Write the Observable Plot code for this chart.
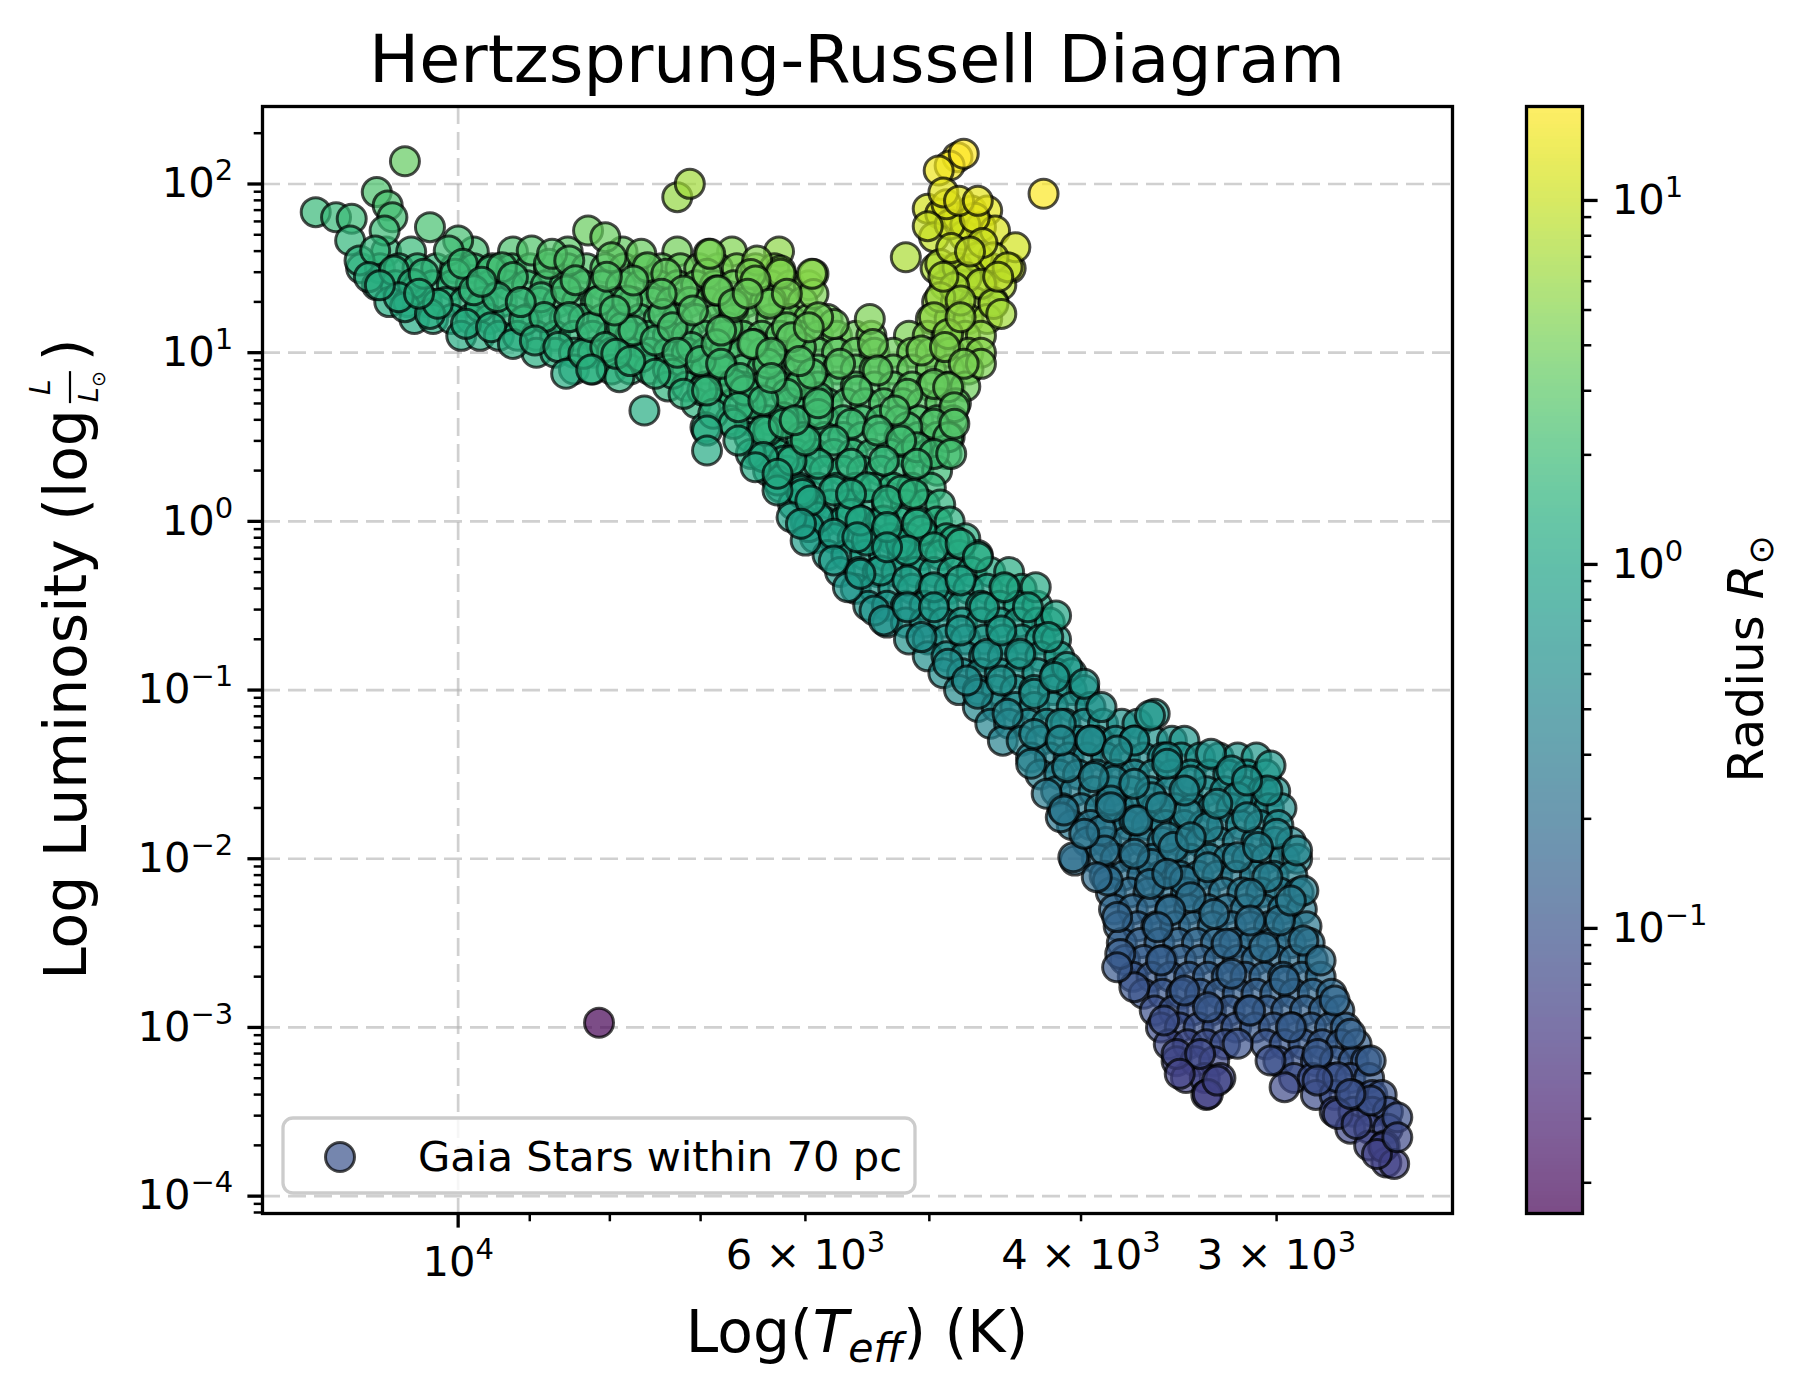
<!DOCTYPE html>
<html><head><meta charset="utf-8">
<script src="https://cdn.jsdelivr.net/npm/d3@7"></script>
<script src="https://cdn.jsdelivr.net/npm/@observablehq/plot@0.6"></script>
<style>
body{margin:0;background:#fff;}
#wrap{position:relative;width:1803px;height:1394px;font-family:"DejaVu Sans",sans-serif;}
#wrap svg{position:absolute;left:0;top:0;}
</style></head><body><div id="wrap"></div>
<script>
// Dense body of the diagram, read row by row: log10 L/Lsun and the log10 Teff (K) of stars along that row
const upperFillRows = [
  {logL: 1.6, logT: [4.046,4.030,3.990,3.965,3.930,3.895,3.860,3.825,3.795]},
  {logL: 1.5, logT: [4.062,4.050,4.038,4.026,4.014,4.002,3.990,3.978,3.966,3.954,3.942,3.930,3.918,3.906,3.894,3.882,3.870,3.858,3.846,3.834,3.822,3.810,3.798,3.695,3.683,3.671,3.659,3.647]},
  {logL: 1.4, logT: [4.052,4.040,4.028,4.016,4.004,3.992,3.980,3.968,3.956,3.944,3.932,3.920,3.908,3.896,3.884,3.872,3.860,3.848,3.836,3.824,3.812,3.800,3.788,3.776,3.689,3.677,3.665,3.653]},
  {logL: 1.3, logT: [4.044,4.032,4.020,4.008,3.996,3.984,3.972,3.960,3.948,3.936,3.924,3.912,3.900,3.888,3.876,3.864,3.852,3.840,3.828,3.816,3.804,3.792,3.780,3.694,3.682,3.670,3.658]},
  {logL: 1.2, logT: [4.028,4.016,4.004,3.992,3.980,3.968,3.956,3.944,3.932,3.920,3.908,3.896,3.884,3.872,3.860,3.848,3.836,3.824,3.812,3.800,3.788,3.776,3.764,3.698,3.686,3.674,3.662]},
  {logL: 1.1, logT: [3.998,3.986,3.974,3.962,3.950,3.938,3.926,3.914,3.902,3.890,3.878,3.866,3.854,3.842,3.830,3.818,3.806,3.794,3.782,3.770,3.758,3.746,3.736,3.712,3.700,3.688,3.676,3.666]},
  {logL: 1.0, logT: [3.950,3.938,3.926,3.914,3.902,3.890,3.878,3.866,3.854,3.842,3.830,3.818,3.806,3.794,3.782,3.770,3.758,3.746,3.734,3.722,3.710,3.698,3.686,3.674,3.666]},
  {logL: 0.9, logT: [3.926,3.914,3.902,3.890,3.878,3.866,3.854,3.842,3.830,3.818,3.806,3.794,3.782,3.770,3.758,3.746,3.734,3.722,3.710,3.698,3.686,3.674]},
  {logL: 0.8, logT: [3.866,3.854,3.842,3.830,3.818,3.806,3.794,3.782,3.770,3.758,3.746,3.734,3.722,3.710,3.698,3.686,3.676]},
  {logL: 0.7, logT: [3.848,3.836,3.824,3.812,3.800,3.788,3.776,3.764,3.752,3.740,3.728,3.716,3.704,3.692,3.682]},
  {logL: 0.6, logT: [3.826,3.814,3.802,3.790,3.778,3.766,3.754,3.742,3.730,3.718,3.706,3.694,3.684]},
  {logL: 0.5, logT: [3.814,3.802,3.790,3.778,3.766,3.754,3.742,3.730,3.718,3.706,3.694,3.686]},
  {logL: 0.4, logT: [3.808,3.796,3.784,3.772,3.760,3.748,3.736,3.724,3.712,3.700,3.688]},
  {logL: 0.3, logT: [3.802,3.790,3.778,3.766,3.754,3.742,3.730,3.718,3.706,3.694]},
  {logL: 0.2, logT: [3.794,3.782,3.770,3.758,3.746,3.734,3.722,3.710,3.698]},
  {logL: 0.1, logT: [3.786,3.774,3.762,3.750,3.738,3.726,3.714,3.702,3.692]},
  {logL: 0.0, logT: [3.778,3.766,3.754,3.742,3.730,3.718,3.706,3.694,3.686]}
];
const lowerFillRows = [
  {logL: -0.1, logT: [3.772,3.760,3.748,3.736,3.724,3.712,3.700,3.688,3.676]},
  {logL: -0.2, logT: [3.764,3.752,3.740,3.728,3.716,3.704,3.692,3.680,3.668]},
  {logL: -0.3, logT: [3.756,3.744,3.732,3.720,3.708,3.696,3.684,3.672,3.660,3.648]},
  {logL: -0.4, logT: [3.746,3.734,3.722,3.710,3.698,3.686,3.674,3.662,3.650,3.640]},
  {logL: -0.5, logT: [3.738,3.726,3.714,3.702,3.690,3.678,3.666,3.654,3.642,3.630]},
  {logL: -0.6, logT: [3.726,3.714,3.702,3.690,3.678,3.666,3.654,3.642,3.630,3.622]},
  {logL: -0.7, logT: [3.712,3.700,3.688,3.676,3.664,3.652,3.640,3.628,3.618]},
  {logL: -0.8, logT: [3.700,3.688,3.676,3.664,3.652,3.640,3.628,3.616]},
  {logL: -0.9, logT: [3.690,3.678,3.666,3.654,3.642,3.630,3.618,3.608]},
  {logL: -1.0, logT: [3.680,3.668,3.656,3.644,3.632,3.620,3.608,3.600]},
  {logL: -1.1, logT: [3.668,3.656,3.644,3.632,3.620,3.608,3.596]},
  {logL: -1.2, logT: [3.660,3.648,3.636,3.624,3.612,3.600,3.588,3.576,3.566]},
  {logL: -1.3, logT: [3.652,3.640,3.628,3.616,3.604,3.592,3.580,3.568,3.556,3.544,3.536]},
  {logL: -1.4, logT: [3.634,3.622,3.610,3.598,3.586,3.574,3.562,3.550,3.538,3.526,3.514,3.502,3.490]},
  {logL: -1.5, logT: [3.628,3.616,3.604,3.592,3.580,3.568,3.556,3.544,3.532,3.520,3.508,3.496,3.484]},
  {logL: -1.6, logT: [3.618,3.606,3.594,3.582,3.570,3.558,3.546,3.534,3.522,3.510,3.498,3.486,3.478]},
  {logL: -1.7, logT: [3.614,3.602,3.590,3.578,3.566,3.554,3.542,3.530,3.518,3.506,3.494,3.482,3.474]},
  {logL: -1.8, logT: [3.608,3.596,3.584,3.572,3.560,3.548,3.536,3.524,3.512,3.500,3.488,3.476]},
  {logL: -1.9, logT: [3.598,3.586,3.574,3.562,3.550,3.538,3.526,3.514,3.502,3.490,3.478,3.468]},
  {logL: -2.0, logT: [3.592,3.580,3.568,3.556,3.544,3.532,3.520,3.508,3.496,3.484,3.472,3.464]},
  {logL: -2.1, logT: [3.587,3.575,3.563,3.551,3.539,3.527,3.515,3.503,3.491,3.479,3.467]},
  {logL: -2.2, logT: [3.583,3.571,3.559,3.547,3.535,3.523,3.511,3.499,3.487,3.475,3.463]},
  {logL: -2.3, logT: [3.581,3.569,3.557,3.545,3.533,3.521,3.509,3.497,3.485,3.473,3.461]},
  {logL: -2.4, logT: [3.578,3.566,3.554,3.542,3.530,3.518,3.506,3.494,3.482,3.470,3.458]},
  {logL: -2.5, logT: [3.576,3.564,3.552,3.540,3.528,3.516,3.504,3.492,3.480,3.468,3.456]},
  {logL: -2.6, logT: [3.574,3.562,3.550,3.538,3.526,3.514,3.502,3.490,3.478,3.466,3.454]},
  {logL: -2.7, logT: [3.569,3.557,3.545,3.533,3.521,3.509,3.497,3.485,3.473,3.461,3.449]},
  {logL: -2.8, logT: [3.562,3.550,3.538,3.526,3.514,3.502,3.490,3.478,3.466,3.454,3.442]},
  {logL: -2.9, logT: [3.555,3.543,3.531,3.519,3.507,3.495,3.483,3.471,3.459,3.447,3.437]},
  {logL: -3.0, logT: [3.551,3.539,3.527,3.515,3.503,3.491,3.479,3.467,3.455,3.443,3.433]},
  {logL: -3.1, logT: [3.546,3.534,3.522,3.510,3.484,3.472,3.460,3.448,3.436,3.426]},
  {logL: -3.2, logT: [3.541,3.529,3.517,3.476,3.464,3.452,3.440,3.428,3.420]},
  {logL: -3.3, logT: [3.535,3.523,3.513,3.466,3.454,3.442,3.430,3.418]},
  {logL: -3.4, logT: [3.522,3.452,3.440,3.428,3.416,3.410]},
  {logL: -3.5, logT: [3.440,3.428,3.416,3.406]},
  {logL: -3.6, logT: [3.430,3.418,3.406]},
  {logL: -3.7, logT: [3.418,3.408]},
  {logL: -3.8, logT: [3.407]}
];

// Individually placed stars: [log10 Teff (K), log10 L/Lsun]
const upperMainSequence = [[4.034,2.135],[4.091,1.833],[4.078,1.803],[4.068,1.794],[4.052,1.952],[4.045,1.873],[4.042,1.803],[4.047,1.724],[4.069,1.665],[4.063,1.547],[4.053,1.606],[4.057,1.448],[4.018,1.744],[4.000,1.665],[4.006,1.606],[4.041,1.487],[4.029,1.408],[4.034,1.270],[4.018,1.230],[4.013,1.290],[4.038,1.329],[4.022,1.468],[4.002,1.468],[3.997,1.527],[3.986,1.270],[3.995,1.171],[3.979,1.487],[3.972,1.507],[3.965,1.448],[3.979,1.151],[3.965,1.052],[3.958,1.191],[3.953,1.606],[3.942,1.527],[3.940,1.586],[3.947,1.329],[3.945,1.211],[3.951,1.072],[3.929,1.547],[3.917,1.724],[3.906,1.685],[3.902,1.566],[3.931,1.369],[3.929,1.211],[3.936,1.033],[3.931,0.875],[3.920,0.993],[3.915,1.151],[3.910,1.309],[3.895,1.151],[3.892,1.309],[3.883,1.586],[3.879,1.507],[3.888,1.428],[3.867,1.468],[3.869,1.230],[3.883,0.973],[3.897,0.855],[3.881,0.657],[3.863,0.875],[3.856,1.369],[3.840,1.586],[3.841,1.468],[3.835,1.369],[3.851,1.033],[3.844,0.776],[3.842,0.558],[3.831,0.894],[3.828,1.151],[3.888,1.131],[3.906,1.033],[3.899,0.993],[3.874,1.072],[3.863,1.151],[3.824,1.270],[3.874,0.875],[3.856,0.756],[3.837,0.638],[3.990,1.370],[3.975,1.330],[3.960,1.300],[4.050,1.400],[4.025,1.350],[3.985,1.420],[3.925,1.430],[3.905,1.450],[3.900,1.250],[3.915,0.900],[3.890,0.950],[3.870,1.350],[3.860,1.000],[3.845,0.950],[3.850,1.250],[3.835,1.050]];

const giantBranch = [[3.860,1.922],[3.852,2.001],[3.681,2.159],[3.686,2.110],[3.693,2.080],[3.677,2.179],[3.626,1.942],[3.700,1.853],[3.692,1.823],[3.681,1.803],[3.672,1.843],[3.662,1.843],[3.677,1.694],[3.666,1.744],[3.657,1.724],[3.644,1.625],[3.696,1.685],[3.714,1.566],[3.692,1.526],[3.681,1.507],[3.668,1.566],[3.658,1.566],[3.649,1.507],[3.675,1.447],[3.666,1.408],[3.683,1.388],[3.692,1.329],[3.658,1.289],[3.653,1.230],[3.696,1.210],[3.679,1.309],[3.687,1.111],[3.679,1.210],[3.704,1.013],[3.689,1.033],[3.666,0.934],[3.677,0.934],[3.696,0.815],[3.687,0.795],[3.713,0.756],[3.683,0.677],[3.696,0.578],[3.687,0.499],[3.683,0.578],[3.713,0.558],[3.707,0.440],[3.696,0.400],[3.685,0.400],[3.676,1.760],[3.686,1.760],[3.670,1.800],[3.688,1.880],[3.690,1.950],[3.680,1.900],[3.668,1.900],[3.700,1.750],[3.665,1.650],[3.685,1.620],[3.673,1.600],[3.655,1.450],[3.690,1.450]];

const subgiants = [[3.737,1.200],[3.735,1.052],[3.773,1.467],[3.794,1.487],[3.809,1.546],[3.773,1.348],[3.760,1.170],[3.770,1.210],[3.790,1.151],[3.800,1.309],[3.813,1.467],[3.834,1.368],[3.839,1.586],[3.824,1.289],[3.811,1.052],[3.832,1.131],[3.781,1.032],[3.756,0.934],[3.732,0.894],[3.745,0.776],[3.721,0.657],[3.770,0.736],[3.781,0.815],[3.802,0.934],[3.824,0.815],[3.841,0.776],[3.832,0.934],[3.813,0.697],[3.792,0.617],[3.770,0.637],[3.749,0.578],[3.732,0.538],[3.717,0.479],[3.760,0.479],[3.781,0.499],[3.802,0.538],[3.824,0.578],[3.841,0.538],[3.813,0.400],[3.792,0.360],[3.770,0.341],[3.749,0.341],[3.728,0.360],[3.707,0.341],[3.781,0.183],[3.760,0.183],[3.739,0.202],[3.717,0.183],[3.796,0.242],[3.749,0.044],[3.728,0.005],[3.770,0.024],[3.704,-0.055],[3.683,-0.114],[3.739,-0.114],[3.717,-0.134],[3.841,0.420],[3.794,1.468],[3.810,1.428],[3.801,1.290],[3.812,1.052],[3.817,0.776],[3.805,0.539],[3.787,1.092],[3.776,1.151],[3.774,1.468],[3.790,0.756],[3.787,0.361],[3.780,0.163],[3.776,-0.034],[3.796,0.183],[3.805,0.381],[3.821,0.677],[3.821,0.479],[3.810,0.321],[3.796,0.282],[3.787,0.025],[3.778,-0.114],[3.805,0.717],[3.792,0.578],[3.778,0.479],[3.774,0.875],[3.820,0.850],[3.815,1.350],[3.800,1.000],[3.800,0.850],[3.790,1.350],[3.782,0.950],[3.785,0.600],[3.770,0.700]];

const lowerMainSequence = [[3.775,0.124],[3.749,0.163],[3.726,0.124],[3.709,0.163],[3.781,-0.014],[3.760,-0.074],[3.743,0.005],[3.726,-0.034],[3.707,-0.014],[3.760,-0.232],[3.745,-0.094],[3.730,-0.291],[3.713,-0.173],[3.696,-0.153],[3.679,-0.133],[3.668,-0.212],[3.751,-0.390],[3.734,-0.528],[3.728,-0.587],[3.713,-0.350],[3.696,-0.390],[3.679,-0.350],[3.664,-0.509],[3.651,-0.390],[3.631,-0.390],[3.618,-0.558],[3.636,-0.509],[3.713,-0.509],[3.696,-0.509],[3.704,-0.686],[3.687,-0.844],[3.679,-0.647],[3.662,-0.785],[3.653,-0.647],[3.641,-0.785],[3.623,-0.686],[3.611,-0.864],[3.668,-1.022],[3.649,-1.141],[3.632,-1.022],[3.619,-0.923],[3.600,-0.963],[3.589,-1.101],[3.615,-1.200],[3.632,-1.260],[3.555,-1.141],[3.568,-1.299],[3.596,-1.299],[3.634,-1.437],[3.624,-1.615],[3.611,-1.457],[3.581,-1.536],[3.547,-1.398],[3.532,-1.536],[3.557,-1.635],[3.583,-1.655],[3.615,-1.754],[3.606,-2.011],[3.589,-1.833],[3.568,-1.773],[3.547,-1.872],[3.534,-1.734],[3.585,-2.129],[3.557,-2.031],[3.536,-2.129],[3.726,-0.153],[3.743,-0.311],[3.653,-0.943],[3.675,-0.943]];

const mDwarfs = [[3.558,-1.151],[3.519,-1.378],[3.481,-1.447],[3.506,-1.477],[3.483,-1.595],[3.607,-1.991],[3.615,-1.299],[3.596,-1.299],[3.579,-1.358],[3.547,-1.437],[3.568,-1.556],[3.536,-1.595],[3.502,-1.635],[3.594,-1.516],[3.613,-1.714],[3.566,-1.773],[3.521,-1.813],[3.496,-1.754],[3.477,-1.852],[3.464,-1.951],[3.543,-1.931],[3.587,-1.951],[3.568,-1.971],[3.502,-1.991],[3.521,-2.050],[3.460,-2.188],[3.483,-2.109],[3.592,-2.109],[3.558,-2.149],[3.532,-2.228],[3.494,-2.208],[3.475,-2.366],[3.579,-2.346],[3.545,-2.307],[3.517,-2.327],[3.577,-2.564],[3.551,-2.603],[3.509,-2.504],[3.485,-2.524],[3.460,-2.485],[3.449,-2.603],[3.568,-2.761],[3.536,-2.781],[3.506,-2.682],[3.472,-2.722],[3.440,-2.840],[3.549,-2.959],[3.521,-2.880],[3.494,-2.900],[3.468,-2.999],[3.430,-3.038],[3.541,-3.157],[3.526,-3.157],[3.521,-3.394],[3.515,-3.315],[3.539,-3.275],[3.502,-3.097],[3.481,-3.196],[3.472,-3.354],[3.451,-3.157],[3.438,-3.295],[3.417,-3.196],[3.438,-3.513],[3.426,-3.572],[3.417,-3.433],[3.400,-3.532],[3.409,-3.710],[3.402,-3.809],[3.413,-3.750],[3.400,-3.651],[3.430,-3.394],[3.451,-3.315],[3.579,-2.643],[3.553,-2.406],[3.494,-2.366],[3.468,-2.248],[3.547,-2.089],[3.600,-1.852],[3.583,-1.694],[3.551,-1.694],[3.515,-1.674],[3.489,-1.931],[3.532,-1.872],[3.496,-1.536]];

const whiteDwarfs = [[3.910,-2.972]];

// Axis ticks
const yMajorTicks = [1e-4, 1e-3, 1e-2, 1e-1, 1, 10, 100];
const xMajorTicks = [10000];
const xLabeledMinorTicks = [6000, 4000, 3000];
const xMinorTicks = [9000, 8000, 7000, 5000];
const cbarMajorTicks = [0.1, 1, 10];

const T_SUN = 5772;
const rowPairs = rows => rows.flatMap(r => r.logT.map(t => [t, r.logL]));
const stars = [...rowPairs(upperFillRows), ...rowPairs(lowerFillRows),
  ...upperMainSequence, ...giantBranch, ...subgiants, ...lowerMainSequence, ...mDwarfs, ...whiteDwarfs]
  .map(([lt, ll]) => {
    const teff = 10 ** lt, lum = 10 ** ll;
    return {teff, lum, radius: Math.sqrt(lum) * (T_SUN / teff) ** 2};
  });
const rDomain = d3.extent(stars, d => d.radius);

const W = 1803, H = 1394;
const xDomain = [13335, 2316];
const yDomain = [7.89e-5, 288];
const FONT = "'DejaVu Sans', sans-serif";
// "10^n" is turned into a raised exponent after rendering
const pow10 = v => "10^" + String(Math.round(Math.log10(v))).replace("-", "\u2212");
const xLabelFmt = d => `${d / 1000} × 10^3`;
const minorOf = (majors, lo, hi) => majors.concat([majors[0] / 10]).flatMap(m => d3.range(2, 10).map(k => k * m)).filter(v => v > lo && v < hi);
const yMinorTicks = minorOf(yMajorTicks, yDomain[0], yDomain[1]);
const cbarMinorTicks = minorOf(cbarMajorTicks, rDomain[0], rDomain[1]);
const gridStyle = {stroke: "#b0b0b0", strokeOpacity: 0.6, strokeWidth: 2.7, strokeDasharray: "18 8"};
const baseStyle = {fontFamily: FONT, fontSize: "41.7px", background: "transparent", color: "black", overflow: "visible"};

const mainPlot = Plot.plot({
  width: W, height: H, marginLeft: 262, marginRight: 351, marginTop: 106, marginBottom: 181,
  style: baseStyle,
  x: {type: "log", domain: xDomain},
  y: {type: "log", domain: yDomain},
  color: {type: "log", scheme: "viridis", domain: rDomain},
  marks: [
    Plot.gridY(yMajorTicks, gridStyle),
    Plot.gridX(xMajorTicks, gridStyle),
    Plot.dot(stars, {x: "teff", y: "lum", fill: "radius", r: 14.5, fillOpacity: 0.7, stroke: "black", strokeOpacity: 0.7, strokeWidth: 3}),
    Plot.axisY({ticks: yMajorTicks, tickSize: 14.6, tickPadding: 14.6, tickFormat: pow10, strokeWidth: 3.3, fontSize: 41.7, label: null}),
    Plot.axisY({ticks: yMinorTicks, tickSize: 8.3, tickPadding: 0, tickFormat: () => "", strokeWidth: 2.5, label: null}),
    Plot.axisX({ticks: xMajorTicks, tickSize: 14.6, tickPadding: 18, tickFormat: pow10, strokeWidth: 3.3, fontSize: 41.7, label: null}),
    Plot.axisX({ticks: xLabeledMinorTicks, tickSize: 8.3, tickPadding: 18, tickFormat: xLabelFmt, strokeWidth: 2.5, fontSize: 41.7, label: null}),
    Plot.axisX({ticks: xMinorTicks, tickSize: 8.3, tickPadding: 0, tickFormat: () => "", strokeWidth: 2.5, label: null}),
    Plot.frame({stroke: "black", strokeWidth: 3.3})
  ]
});

const lr0 = Math.log10(rDomain[0]), lr1 = Math.log10(rDomain[1]), N = 300;
const cbarStops = d3.range(N).map(i => {
  const lo = 10 ** (lr0 + (lr1 - lr0) * i / N), hi = 10 ** (lr0 + (lr1 - lr0) * (i + 1) / N);
  return {lo, hi, mid: Math.sqrt(lo * hi)};
});
const cbarPlot = Plot.plot({
  width: W, height: H, marginLeft: 1526, marginRight: 221, marginTop: 106, marginBottom: 181,
  style: baseStyle,
  x: {domain: [0, 1], axis: null},
  y: {type: "log", domain: rDomain},
  color: {type: "log", scheme: "viridis", domain: rDomain},
  marks: [
    Plot.rect(cbarStops, {x1: 0, x2: 1, y1: "lo", y2: "hi", fill: "mid", fillOpacity: 0.7, shapeRendering: "crispEdges"}),
    Plot.axisY({ticks: cbarMajorTicks, anchor: "right", tickSize: 14.6, tickPadding: 14.6, tickFormat: pow10, strokeWidth: 3.3, fontSize: 41.7, label: null}),
    Plot.axisY({ticks: cbarMinorTicks, anchor: "right", tickSize: 8.3, tickPadding: 0, tickFormat: () => "", strokeWidth: 2.5, label: null}),
    Plot.frame({stroke: "black", strokeWidth: 3.3})
  ]
});

// raise exponents of tick labels like matplotlib mathtext
function raiseExponents(node) {
  d3.select(node).selectAll("text").each(function () {
    const s = this.textContent, i = s.indexOf("^");
    if (i < 0) return;
    const t = d3.select(this);
    t.text(null);
    t.append("tspan").text(s.slice(0, i));
    t.append("tspan").attr("font-size", 29).attr("dy", -17).text(s.slice(i + 1));
  });
}
raiseExponents(mainPlot);
raiseExponents(cbarPlot);

const wrap = document.getElementById("wrap");
wrap.appendChild(mainPlot);
wrap.appendChild(cbarPlot);

// Titles, labels, legend
const svg = d3.select(wrap).append("svg").attr("width", W).attr("height", H)
  .style("font-family", FONT).style("pointer-events", "none");
svg.append("text").attr("x", 857).attr("y", 82).attr("text-anchor", "middle").attr("font-size", 66.7)
  .text("Hertzsprung-Russell Diagram");

const xl = svg.append("text").attr("x", 857).attr("y", 1352).attr("text-anchor", "middle").attr("font-size", 58.3);
xl.append("tspan").text("Log(");
xl.append("tspan").attr("font-style", "italic").text("T");
xl.append("tspan").attr("font-style", "italic").attr("font-size", 41).attr("dy", 10).text("eff");
xl.append("tspan").attr("dy", -10).text(") (K)");

const yg = svg.append("g");
const t1 = yg.append("text").attr("font-size", 58.3).attr("x", 0).attr("y", 0).text("Log Luminosity (log");
const w1 = t1.node().getComputedTextLength();
const fl = w1 + 6, fw = 32;
yg.append("text").attr("font-size", 28).attr("font-style", "italic").attr("text-anchor", "middle")
  .attr("x", fl + fw / 2).attr("y", -36).text("L");
yg.append("line").attr("x1", fl).attr("x2", fl + fw).attr("y1", -16).attr("y2", -16).attr("stroke", "black").attr("stroke-width", 2.2);
const den = yg.append("text").attr("font-size", 27).attr("x", fl + 1).attr("y", 12);
den.append("tspan").attr("font-style", "italic").text("L");
den.append("tspan").attr("font-size", 19).attr("dy", 7).text("⊙");
yg.append("text").attr("font-size", 58.3).attr("x", fl + fw + 10).attr("y", 0).text(")");
const total = fl + fw + 10 + 23;
yg.attr("transform", `translate(86,659) rotate(-90) translate(${-total / 2},0)`);

const cl = svg.append("text").attr("transform", "translate(1763,659) rotate(-90)").attr("text-anchor", "middle").attr("font-size", 50);
cl.append("tspan").text("Radius ");
cl.append("tspan").attr("font-style", "italic").text("R");
cl.append("tspan").attr("font-size", 35).attr("dy", 10).text("⊙");

const lg = svg.append("g");
lg.append("rect").attr("x", 283).attr("y", 1118).attr("width", 632).attr("height", 75).attr("rx", 10)
  .attr("fill", "white").attr("fill-opacity", 0.8).attr("stroke", "#cccccc").attr("stroke-width", 3.3);
lg.append("circle").attr("cx", 340).attr("cy", 1157).attr("r", 14.5)
  .attr("fill", d3.interpolateViridis(0.25)).attr("fill-opacity", 0.7).attr("stroke", "black").attr("stroke-opacity", 0.7).attr("stroke-width", 3);
lg.append("text").attr("x", 418).attr("y", 1171).attr("font-size", 41.7).text("Gaia Stars within 70 pc");
</script></body></html>
